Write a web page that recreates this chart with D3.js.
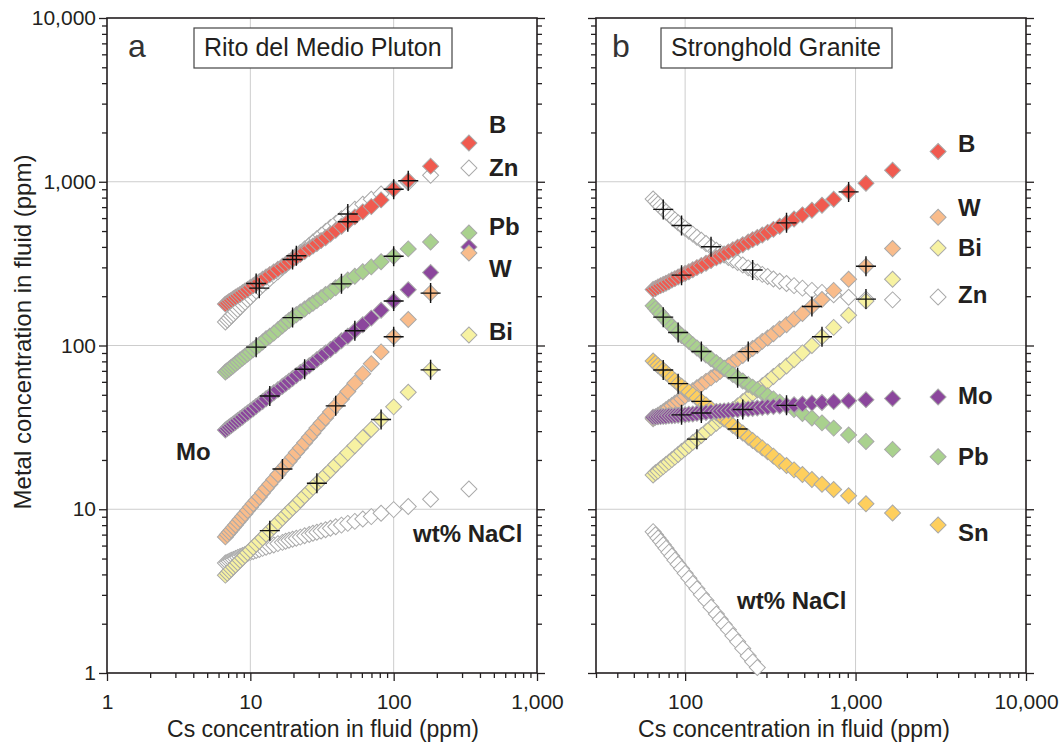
<!DOCTYPE html>
<html>
<head>
<meta charset="utf-8">
<script src="https://cdn.jsdelivr.net/npm/d3@7"></script>
<style>
  body { margin: 0; background: #ffffff; }
  svg { display: block; font-family: "Liberation Sans", Arial, Helvetica, sans-serif; }
</style>
</head>
<body>
<svg id="chart" width="1061" height="746"></svg>
<script>
// ---------- Rito del Medio Pluton: Cs in fluid (ppm) and metal concentrations (ppm)
const csA = [6.70, 6.91, 7.13, 7.36, 7.61, 7.88, 8.17, 8.48, 8.82, 9.18, 9.57, 10.0, 10.47, 10.98, 11.55,
  12.18, 12.88, 13.67, 14.57, 15.58, 16.75, 17.63, 18.61, 19.71, 20.94, 22.33, 23.93, 25.77, 27.35, 29.13,
  31.16, 33.5, 36.22, 39.41, 43.23, 47.86, 53.6, 60.9, 69.8, 81.7, 100, 126.4, 181, 335];
const rdmB = [179, 182, 186, 189, 193, 197, 201, 205, 210, 215, 220, 226, 232, 239, 245, 254, 262, 271, 281, 292,
  305, 314, 324, 335, 347, 360, 375, 391, 405, 420, 437, 455, 480, 505, 535, 570, 610, 655, 705, 775, 900, 1015, 1245, 1725];
const rdmZn = [139, 143, 147, 152, 156, 161, 166, 172, 178, 184, 191, 198, 206, 215, 224, 234, 244, 256, 269, 282,
  299, 310, 324, 337, 353, 370, 389, 410, 429, 449, 471, 497, 525, 557, 594, 635, 679, 729, 782, 841, 912, 989, 1096, 1213];
const rdmPb = [68.9, 70.3, 71.9, 73.6, 75.3, 77.3, 79.3, 81.5, 83.7, 86.1, 88.7, 91.4, 94.6, 97.7, 101, 105, 110, 114, 119, 125,
  132, 137, 142, 148, 154, 160, 167, 175, 181, 188, 196, 205, 214, 225, 238, 251, 265, 282, 302, 325, 351, 389, 429, 486];
const rdmMo = [30.5, 31.1, 31.8, 32.5, 33.2, 34.0, 34.8, 35.7, 36.6, 37.7, 38.7, 39.9, 41.1, 42.5, 44.0, 45.5, 47.3, 49.2, 51.4, 53.7,
  56.4, 58.3, 60.5, 62.9, 65.6, 68.4, 71.6, 75.3, 78.3, 81.8, 85.7, 89.9, 94.6, 100, 107, 114, 123, 134, 147, 164, 187, 219, 279, 399];
const rdmW = [6.78, 7.00, 7.23, 7.48, 7.74, 8.02, 8.34, 8.65, 9.02, 9.40, 9.82, 10.3, 10.8, 11.3, 11.9, 12.6, 13.4, 14.2, 15.2, 16.3,
  17.6, 18.5, 19.6, 20.8, 22.2, 23.7, 25.5, 27.5, 29.2, 31.3, 33.5, 36.1, 39.2, 42.8, 47.1, 52.4, 58.9, 67.3, 77.4, 91.4, 113, 144, 209, 367];
const rdmBi = [3.96, 4.07, 4.19, 4.31, 4.44, 4.57, 4.71, 4.88, 5.04, 5.22, 5.42, 5.62, 5.86, 6.11, 6.38, 6.68, 7.03, 7.40, 7.82, 8.30,
  8.83, 9.25, 9.68, 10.2, 10.7, 11.4, 12.1, 12.9, 13.6, 14.4, 15.2, 16.2, 17.3, 18.7, 20.2, 22.1, 24.4, 27.4, 30.8, 35.3, 42.2, 51.8, 71.0, 116];
const rdmNaCl = [4.70, 4.75, 4.82, 4.88, 4.94, 5.01, 5.08, 5.15, 5.22, 5.30, 5.37, 5.45, 5.52, 5.60, 5.68, 5.77, 5.86, 5.96, 6.05, 6.17,
  6.28, 6.37, 6.46, 6.56, 6.65, 6.76, 6.89, 7.01, 7.13, 7.24, 7.36, 7.50, 7.66, 7.82, 8.00, 8.20, 8.43, 8.71, 9.02, 9.46, 9.95, 10.4, 11.5, 13.3];

// marked steps (Cs values) along each Rito del Medio curve
const rdmCrossB = [10.98, 19.71, 47.86, 100, 126.4];
const rdmCrossZn = [11.55, 20.94, 47.86];
const rdmCrossPb = [10.98, 19.71, 43.23, 100];
const rdmCrossMo = [13.67, 23.93, 53.6, 100];
const rdmCrossW = [16.75, 39.41, 100, 181];
const rdmCrossBi = [13.67, 29.13, 81.7, 181];

// ---------- Stronghold Granite
const csB = [64.9, 67.0, 69.3, 71.8, 74.4, 77.2, 80.3, 83.6, 87.1, 91.0, 95.3, 100, 105.2, 110.9, 117.3, 124.5, 132.6,
  141.9, 152.5, 160.5, 169.4, 179.4, 190.6, 203.3, 217.9, 234.6, 249.0, 265.2, 283.7, 305, 329.7, 358.8, 393.5,
  435.7, 488, 554.5, 635.4, 743.9, 910.4, 1151, 1649, 3050];
const shgB = [220, 223, 228, 232, 236, 240, 245, 251, 256, 262, 269, 275, 282, 290, 299, 308, 318, 330, 343, 352, 362,
  373, 385, 398, 412, 429, 443, 457, 473, 491, 512, 535, 561, 592, 628, 670, 719, 782, 867, 979, 1175, 1531];
const shgZn = [785, 759, 731, 705, 678, 653, 630, 607, 585, 562, 541, 520, 499, 479, 458, 439, 420, 401, 382, 370, 357,
  345, 333, 321, 310, 298, 289, 281, 272, 264, 255, 247, 239, 232, 224, 217, 211, 204, 197, 192, 190, 198];
const shgW = [35.7, 36.6, 37.5, 38.5, 39.4, 40.6, 41.8, 43.0, 44.4, 45.8, 47.3, 49.1, 50.9, 53.0, 55.2, 57.7, 60.4, 63.4, 66.8, 69.5, 72.3,
  75.3, 78.9, 82.6, 86.9, 91.8, 95.9, 100, 106, 111, 118, 126, 134, 145, 157, 173, 191, 217, 254, 305, 391, 607];
const shgBi = [16.2, 16.7, 17.1, 17.7, 18.2, 18.8, 19.4, 20.1, 20.8, 21.6, 22.5, 23.4, 24.4, 25.6, 26.8, 28.2, 29.8, 31.6, 33.5, 35.0, 36.6,
  38.5, 40.6, 42.8, 45.4, 48.3, 50.8, 53.7, 56.8, 60.4, 64.6, 69.3, 75.0, 81.8, 90.2, 100, 113, 129, 153, 187, 254, 394];
const shgMo = [36.5, 36.6, 36.7, 36.8, 36.9, 37.0, 37.2, 37.2, 37.4, 37.5, 37.7, 37.8, 38.0, 38.2, 38.5, 38.7, 39.0, 39.3, 39.5, 39.7, 39.9,
  40.1, 40.3, 40.5, 40.7, 41.0, 41.2, 41.5, 41.8, 42.1, 42.4, 42.7, 43.1, 43.5, 44.0, 44.5, 44.9, 45.4, 46.0, 46.7, 47.5, 48.5];
const shgPb = [175, 168, 162, 156, 149, 143, 137, 131, 126, 120, 115, 111, 106, 101, 96.6, 92.0, 87.5, 83.0, 78.5, 75.5, 72.6,
  69.5, 66.5, 63.5, 60.7, 57.8, 55.7, 53.6, 51.4, 49.3, 47.2, 45.1, 42.9, 40.6, 38.4, 36.1, 33.7, 31.3, 28.4, 25.9, 23.2, 20.9];
const shgSn = [80.4, 78.0, 75.5, 73.1, 70.8, 68.4, 65.9, 63.4, 61.0, 58.5, 56.4, 54.2, 52.1, 50.0, 47.8, 45.6, 43.4, 41.1, 38.8, 37.2, 35.6,
  34.1, 32.5, 30.9, 29.2, 27.5, 26.3, 25.0, 23.7, 22.4, 21.1, 19.6, 18.5, 17.4, 16.3, 15.2, 14.2, 13.2, 12.1, 10.8, 9.48, 8.02];
// salinity drops below the axis minimum after these steps
const shgNaCl = [7.30, 6.98, 6.67, 6.37, 6.07, 5.77, 5.47, 5.18, 4.89, 4.61, 4.34, 4.06, 3.79, 3.52, 3.27, 3.01, 2.77, 2.52,
  2.29, 2.13, 1.98, 1.84, 1.69, 1.55, 1.41, 1.27, 1.17, 1.08];

const shgCrossB = [95.3, 393.5, 910.4];
const shgCrossZn = [74.4, 95.3, 141.9, 249.0, 1151];
const shgCrossW = [234.6, 554.5, 1151];
const shgCrossBi = [117.3, 635.4];
const shgCrossMo = [95.3, 124.5, 217.9, 393.5];
const shgCrossPb = [74.4, 91.0, 124.5, 203.3];
const shgCrossSn = [74.4, 91.0, 124.5, 203.3];

// ---------- axis ticks
const yTickLabels = [1, 10, 100, 1000, 10000];
const xTickLabelsA = [1, 10, 100, 1000];
const xTickLabelsB = [100, 1000, 10000];

// ---------- drawing
const ink = "#231f20";
const grid = "#cdcdcd";
const edge = "#a9a9a9";
const fills = { B: "#f05a4f", Zn: "#ffffff", Pb: "#a9d18e", W: "#f9bc8b", Bi: "#f7f2a2",
  Mo: "#8b469c", Sn: "#fecf5d", NaCl: "#ffffff" };

const svg = d3.select("#chart");
const plotTop = 18, plotBottom = 673;
const y = d3.scaleLog().domain([1, 10000]).range([plotBottom, plotTop]);
const xA = d3.scaleLog().domain([1, 1000]).range([107, 537]);
const xB = d3.scaleLog().domain([30, 10000]).range([596, 1026]);

const diamond = d3.symbol().type(d3.symbolSquare).size(128)();
const fmt = d3.format(",");

function styleAxis(sel, fontSize) {
  sel.select(".domain").remove();
  sel.selectAll("line").attr("stroke", ink).attr("stroke-width", 1.3);
  sel.selectAll("text").attr("fill", ink).attr("font-size", fontSize)
    .attr("font-family", "'Liberation Sans', Arial, sans-serif");
}

function drawPanel(x, cs, series, xMajors, opts) {
  const g = svg.append("g");
  const [x0, x1] = x.range();
  const gridX = xMajors.filter(v => x(v) > x0 + 1 && x(v) < x1 - 1);
  const gridY = yTickLabels.filter(v => v > 1 && v < 10000);

  g.append("g").selectAll("line").data(gridX).join("line")
    .attr("x1", d => x(d)).attr("x2", d => x(d)).attr("y1", plotTop).attr("y2", plotBottom)
    .attr("stroke", grid).attr("stroke-width", 1);
  g.append("g").selectAll("line").data(gridY).join("line")
    .attr("x1", x0).attr("x2", x1).attr("y1", d => y(d)).attr("y2", d => y(d))
    .attr("stroke", grid).attr("stroke-width", 1);

  const minorY = y.ticks().filter(v => !yTickLabels.includes(v));
  const minorX = x.ticks().filter(v => !xMajors.includes(v));

  // left axis
  const la = g.append("g").attr("transform", `translate(${x0},0)`);
  la.append("g").call(d3.axisLeft(y).tickValues(minorY).tickSize(5).tickFormat("")).call(s => styleAxis(s, 21));
  la.append("g").call(d3.axisLeft(y).tickValues(yTickLabels).tickSize(8).tickPadding(3)
    .tickFormat(opts.yLabels ? fmt : "")).call(s => styleAxis(s, 21));
  // right axis
  const ra = g.append("g").attr("transform", `translate(${x1},0)`);
  ra.append("g").call(d3.axisRight(y).tickValues(minorY).tickSize(5).tickFormat("")).call(s => styleAxis(s, 21));
  ra.append("g").call(d3.axisRight(y).tickValues(yTickLabels).tickSize(8).tickFormat("")).call(s => styleAxis(s, 21));
  // bottom axis
  const ba = g.append("g").attr("transform", `translate(0,${plotBottom})`);
  ba.append("g").call(d3.axisBottom(x).tickValues(minorX).tickSize(5).tickFormat("")).call(s => styleAxis(s, 21));
  ba.append("g").call(d3.axisBottom(x).tickValues(xMajors).tickSize(8).tickPadding(13).tickFormat(fmt))
    .call(s => styleAxis(s, 21));

  // frame
  g.append("rect").attr("x", x0).attr("y", plotTop).attr("width", x1 - x0).attr("height", plotBottom - plotTop)
    .attr("fill", "none").attr("stroke", ink).attr("stroke-width", 1.6);

  // model steps as diamonds
  series.forEach(s => {
    const pts = cs.map((c, i) => ({ cs: c, v: s.values[i] }))
      .filter(p => p.v != null && p.v >= 1);
    g.append("g").selectAll("path").data(pts).join("path")
      .attr("d", diamond)
      .attr("transform", p => `translate(${x(p.cs)},${y(p.v)}) rotate(45)`)
      .attr("fill", fills[s.key]).attr("stroke", edge).attr("stroke-width", 1);
  });

  // marked steps
  const marks = [];
  series.forEach(s => (s.marks || []).forEach(c => {
    const i = cs.indexOf(c);
    if (i >= 0) marks.push({ cs: c, v: s.values[i] });
  }));
  g.append("g").selectAll("path").data(marks).join("path")
    .attr("d", "M-10,0H10M0,-10V10")
    .attr("transform", p => `translate(${x(p.cs)},${y(p.v)})`)
    .attr("stroke", "#111111").attr("stroke-width", 1.4).attr("fill", "none");

  // panel letter and title box
  g.append("text").attr("x", opts.letterX).attr("y", 57).attr("font-size", 32).attr("fill", "#333333")
    .text(opts.letter);
  g.append("rect").attr("x", opts.box[0]).attr("y", 28).attr("width", opts.box[1] - opts.box[0]).attr("height", 40)
    .attr("fill", "#ffffff").attr("stroke", "#444444").attr("stroke-width", 1.2);
  g.append("text").attr("x", opts.box[0] + 10).attr("y", 56).attr("font-size", 25).attr("fill", ink)
    .text(opts.title);

  // element labels
  g.append("g").selectAll("text").data(opts.labels).join("text")
    .attr("x", d => d[1]).attr("y", d => d[2])
    .attr("font-size", 24).attr("font-weight", "bold").attr("fill", ink)
    .text(d => d[0]);

  // x title
  g.append("text").attr("x", opts.xTitleX).attr("y", 737).attr("text-anchor", "middle")
    .attr("font-size", 23).attr("fill", ink).text("Cs concentration in fluid (ppm)");
}

drawPanel(xA, csA, [
  { key: "NaCl", values: rdmNaCl },
  { key: "Zn", values: rdmZn, marks: rdmCrossZn },
  { key: "B", values: rdmB, marks: rdmCrossB },
  { key: "Pb", values: rdmPb, marks: rdmCrossPb },
  { key: "Mo", values: rdmMo, marks: rdmCrossMo },
  { key: "W", values: rdmW, marks: rdmCrossW },
  { key: "Bi", values: rdmBi, marks: rdmCrossBi }
], xTickLabelsA, {
  yLabels: true, letter: "a", letterX: 128, box: [194, 452], title: "Rito del Medio Pluton",
  xTitleX: 323,
  labels: [["B", 489, 133], ["Zn", 489, 176], ["Pb", 489, 235], ["W", 489, 277], ["Bi", 489, 340],
    ["Mo", 176, 460], ["wt% NaCl", 413, 542]]
});

drawPanel(xB, csB, [
  { key: "NaCl", values: shgNaCl },
  { key: "Zn", values: shgZn, marks: shgCrossZn },
  { key: "W", values: shgW, marks: shgCrossW },
  { key: "Bi", values: shgBi, marks: shgCrossBi },
  { key: "Sn", values: shgSn, marks: shgCrossSn },
  { key: "Pb", values: shgPb, marks: shgCrossPb },
  { key: "Mo", values: shgMo, marks: shgCrossMo },
  { key: "B", values: shgB, marks: shgCrossB }
], xTickLabelsB, {
  yLabels: false, letter: "b", letterX: 612, box: [661, 892], title: "Stronghold Granite",
  xTitleX: 794,
  labels: [["B", 958, 152], ["W", 958, 216], ["Bi", 958, 256], ["Zn", 958, 303], ["Mo", 958, 404],
    ["Pb", 958, 465], ["Sn", 958, 541], ["wt% NaCl", 737, 609]]
});

// shared y title
svg.append("text").attr("transform", "translate(31,332) rotate(-90)").attr("text-anchor", "middle")
  .attr("font-size", 24).attr("fill", ink).text("Metal concentration in fluid (ppm)");
</script>
</body>
</html>
